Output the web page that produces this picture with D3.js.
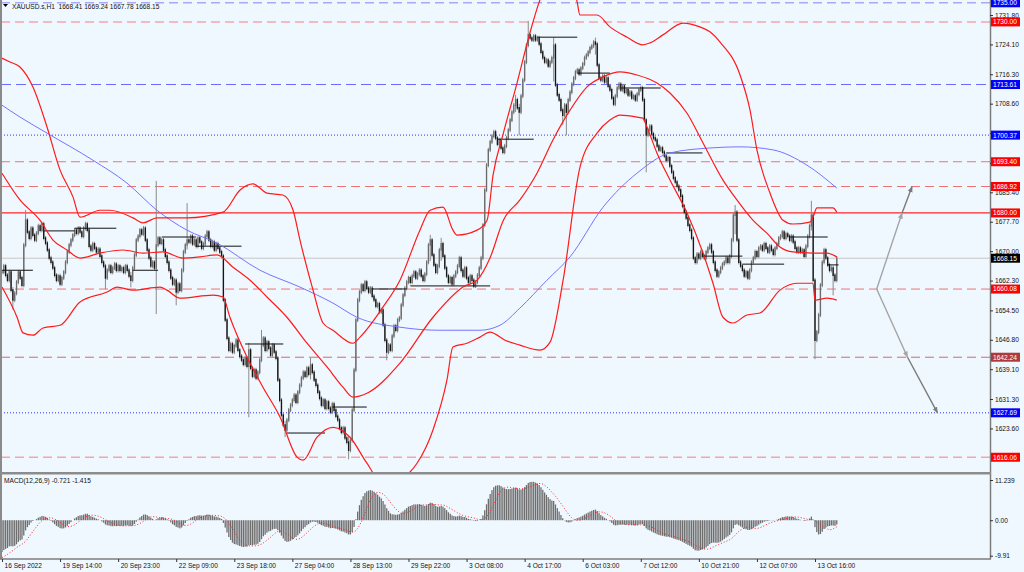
<!DOCTYPE html>
<html><head><meta charset="utf-8">
<script src="https://cdn.jsdelivr.net/npm/d3@7"></script>
<style>
html,body{margin:0;padding:0;background:#f0f8ff;overflow:hidden;}
svg{display:block;font-family:"Liberation Sans",Arial,sans-serif;}
</style></head><body>
<script>
// ---------------- DATA ----------------
const symbolTitle = "XAUUSD.s,H1  1668.41 1669.24 1667.78 1668.15";
const macdTitle = "MACD(12,26,9) -0.721 -1.415";

// H1 closes, one per bar (bar 0 = 16 Sep 2022 ... bar 460 = last bar)
const closes = [
1664.5,1666.1,1663.7,1662.4,1664.5,1659.8,1657.2,1659.0,1661.9,1664.5,
1663.0,1661.1,1671.6,1678.1,1675.0,1673.4,1676.0,1674.2,1672.9,1674.7,
1676.6,1675.5,1677.1,1673.4,1672.1,1670.3,1668.2,1667.1,1665.6,1663.7,
1662.4,1663.5,1661.4,1663.0,1664.5,1667.1,1669.8,1671.6,1672.9,1674.2,
1675.5,1674.7,1676.0,1675.0,1673.9,1676.0,1677.1,1675.5,1671.3,1670.3,
1671.9,1670.8,1669.8,1670.5,1668.7,1667.1,1666.1,1663.0,1665.0,1666.1,
1664.5,1665.6,1666.6,1665.0,1666.1,1665.0,1665.6,1664.5,1666.1,1665.0,
1663.5,1662.4,1665.6,1669.0,1672.9,1673.9,1675.5,1674.5,1676.0,1672.9,
1670.3,1668.2,1666.1,1667.1,1665.6,1671.6,1673.4,1672.1,1672.9,1670.3,
1668.7,1667.1,1665.0,1663.0,1661.4,1662.4,1659.3,1661.4,1659.8,1665.0,
1669.8,1671.6,1672.9,1672.4,1673.9,1671.9,1672.9,1671.3,1673.4,1672.4,
1670.8,1671.9,1673.9,1675.0,1672.9,1671.3,1672.4,1670.3,1671.9,1670.8,
1669.8,1668.7,1657.2,1652.0,1647.2,1644.1,1645.7,1643.6,1645.2,1646.7,
1644.1,1642.5,1641.5,1640.4,1642.0,1639.9,1644.1,1639.4,1637.3,1638.9,
1636.8,1638.3,1641.5,1645.4,1647.2,1644.1,1646.2,1644.6,1642.8,1645.4,
1643.6,1642.0,1636.3,1631.0,1627.1,1624.5,1623.2,1625.8,1628.4,1629.7,
1631.0,1632.3,1630.5,1633.1,1634.9,1636.8,1638.3,1637.3,1639.4,1637.8,
1640.2,1638.3,1636.3,1634.9,1633.1,1631.5,1629.7,1631.0,1628.9,1630.5,
1628.9,1627.9,1630.0,1628.4,1626.8,1625.8,1623.7,1622.6,1623.7,1621.1,
1620.0,1617.9,1620.5,1628.4,1638.9,1652.0,1657.2,1659.3,1661.1,1659.8,
1661.9,1660.3,1659.3,1660.3,1658.2,1657.2,1655.6,1656.2,1654.1,1654.6,
1650.7,1646.7,1643.6,1645.4,1644.1,1647.8,1650.4,1649.3,1652.0,1652.5,
1655.9,1658.5,1660.3,1661.9,1663.0,1661.9,1663.5,1664.5,1663.0,1664.0,
1665.0,1663.5,1662.4,1664.0,1667.1,1671.6,1672.9,1669.0,1666.4,1664.5,
1666.1,1670.3,1671.9,1668.7,1665.6,1663.5,1661.9,1663.0,1661.4,1663.5,
1664.5,1666.1,1668.2,1665.0,1663.5,1665.6,1663.0,1661.9,1663.5,1662.4,
1660.9,1661.9,1663.7,1665.6,1668.2,1676.8,1686.0,1692.5,1696.5,1698.6,
1700.1,1701.2,1699.6,1698.0,1699.1,1697.0,1695.9,1697.5,1699.6,1701.7,
1704.3,1706.4,1708.2,1709.6,1707.5,1706.4,1710.6,1714.8,1719.5,1723.9,
1726.6,1725.8,1725.3,1726.3,1725.3,1725.8,1724.2,1722.1,1720.6,1719.5,
1720.0,1718.5,1719.5,1720.6,1723.9,1713.5,1710.9,1709.6,1706.9,1705.6,
1708.2,1706.4,1709.6,1711.6,1713.7,1715.3,1716.9,1717.4,1716.4,1717.9,
1719.0,1720.6,1721.3,1722.1,1723.2,1723.7,1724.7,1724.2,1718.7,1715.3,
1714.8,1715.8,1714.3,1715.3,1713.2,1712.2,1710.1,1708.5,1710.6,1712.7,
1713.7,1712.2,1713.2,1711.6,1712.2,1710.9,1711.6,1710.1,1710.6,1709.6,
1711.1,1712.2,1712.7,1709.6,1704.3,1700.4,1701.7,1702.7,1700.7,1699.6,
1699.1,1697.5,1696.5,1697.0,1695.9,1694.9,1693.8,1694.4,1692.3,1690.7,
1689.1,1688.1,1687.0,1686.0,1684.4,1681.8,1680.2,1678.7,1676.8,1675.5,
1673.4,1668.2,1667.1,1669.2,1668.2,1669.8,1668.7,1668.2,1669.8,1670.8,
1671.6,1669.8,1667.1,1665.0,1663.5,1664.5,1665.6,1666.6,1667.1,1668.2,
1667.1,1668.7,1672.9,1679.4,1680.2,1672.9,1667.1,1666.1,1665.0,1663.5,
1664.5,1663.0,1665.0,1667.1,1668.2,1669.8,1668.7,1670.8,1671.3,1670.3,
1671.9,1670.8,1669.8,1671.3,1670.3,1669.2,1670.8,1671.9,1673.4,1673.9,
1675.0,1673.4,1674.5,1673.9,1672.9,1673.9,1672.4,1670.8,1669.8,1670.8,
1669.8,1670.3,1668.7,1671.3,1673.9,1676.6,1679.4,1662.4,1646.7,1648.8,
1653.3,1661.1,1667.1,1670.3,1668.2,1666.4,1665.0,1665.6,1663.7,1662.4,
1668.15
];

// notable wicks: [bar, high, low]
const wicks = [
[6,1660,1655.3],[13,1680.2,1672],[57,1665,1660.6],[71,1664,1661.1],[85,1687.8,1654.1],
[96,1661,1656.4],[102,1682.0,1671],[136,1645.4,1627.1],[143,1648.8,1644],[156,1625,1621.9],
[170,1641.5,1637],[191,1621,1616.1],[212,1646,1642.0],[236,1673.7,1668],[242,1672.9,1668],
[283,1710.3,1707],[285,1708,1700.9],[290,1729.7,1725],[304,1725.3,1715],[309,1707,1703.5],
[311,1708,1700.9],[327,1725.3,1722],[355,1702,1691.2],[404,1681.5,1675],[446,1682.6,1676],
[448,1662,1642.3],[458,1665,1659.0]
];

// Bollinger bands: [bar, price]
const bbUpper = [[0,1720.5],[4.4,1719.5],[9.9,1718.2],[17.1,1712.9],[24.8,1702.5],[32,1691.2],[39.1,1684.2],[43,1678.9],[54,1680.7],[59.5,1680.7],[72.2,1678.7],[77.7,1677.4],[85.4,1678.7],[101.9,1678.7],[121.8,1680.2],[131.2,1686.0],[138.3,1687.6],[146,1685.2],[154.8,1684.7],[160.4,1680.7],[164.2,1672.9],[171.4,1659.8],[176.9,1651.2],[182.4,1649.3],[193.4,1645.9],[197.3,1647.5],[210,1655.4],[219.3,1662.4],[230.3,1675.5],[235.9,1680.7],[243,1681.5],[248.5,1675.5],[250.7,1674.2],[261.8,1675.5],[267.3,1678.1],[270.6,1689.9],[276.3,1700.9],[283.8,1714.0],[290.9,1727.1],[296.4,1735.7],[306.4,1743.6],[316.7,1735.7],[318.5,1731.8],[327.9,1731.8],[335,1728.7],[344.4,1726.0],[353.2,1724.0],[357.1,1724.5],[364.2,1726.6],[375.3,1729.7],[384.6,1728.7],[390.1,1727.4],[395.7,1724.7],[406.7,1716.1],[412.2,1706.9],[416,1696.5],[423.2,1685.2],[430.4,1678.1],[435.9,1677.1],[445.2,1677.6],[446.9,1678.9],[449.1,1681.3],[457.9,1681.3],[460,1680.2]];
const bbMiddle = [[0,1690.4],[9.9,1683.4],[20.9,1678.1],[28.1,1672.9],[35.8,1670.3],[43,1668.2],[54,1669.5],[66.7,1670.3],[77.7,1669.5],[88.7,1669.8],[99.7,1668.2],[109.1,1668.5],[118.5,1669.0],[127.3,1665.8],[136.7,1662.4],[146,1658.0],[157,1652.7],[168.1,1645.9],[179.1,1639.7],[187.9,1634.4],[193.4,1631.8],[201.1,1632.8],[219.3,1640.7],[237.5,1652.7],[254,1660.6],[262,1662.5],[268.9,1668.2],[276.3,1678.1],[285.4,1683.4],[294.8,1690.4],[303.6,1699.1],[313,1706.9],[322.4,1713.0],[331.2,1715.6],[340.6,1716.9],[349.9,1716.1],[360.9,1714.0],[368.1,1711.4],[377.5,1706.1],[386.3,1698.3],[397.3,1688.6],[405,1683.4],[413.8,1678.1],[421.5,1674.7],[428.7,1671.1],[435.9,1669.8],[446.9,1669.5],[454.6,1669.5],[460,1668.5]];
const bbLower = [[0,1660.6],[8.3,1652.7],[11.6,1648.6],[17.1,1648.0],[22.6,1649.9],[32,1650.6],[43,1656.7],[57.9,1659.3],[63.4,1660.6],[72.2,1659.8],[87.1,1660.6],[90.9,1659.8],[98.1,1657.7],[116.3,1658.5],[121.8,1658.0],[125.6,1652.7],[135,1642.3],[143.8,1634.4],[153.2,1626.6],[162.6,1616.1],[165.9,1615.3],[173.6,1621.3],[182.4,1623.9],[191.8,1621.3],[201.1,1614.5],[208.3,1610.1],[219.3,1610.6],[228.7,1614.5],[237.5,1623.2],[245.2,1636.3],[248.5,1644.9],[256.2,1645.9],[263.4,1647.5],[268.9,1648.8],[277.2,1646.7],[285.4,1645.4],[296.4,1644.1],[302,1646.2],[309.2,1662.4],[318.5,1692.0],[327.9,1700.9],[335,1704.3],[340.6,1705.6],[349.9,1705.1],[353.2,1704.8],[355.4,1702.5],[360.9,1695.7],[368.1,1688.6],[377.5,1680.0],[386.3,1669.5],[391.8,1661.6],[397.3,1652.7],[402.8,1651.2],[410.5,1653.3],[417.7,1653.8],[428.7,1659.8],[438.1,1661.6],[446.9,1661.6],[448,1657.2],[454.6,1657.7],[460,1657.2]];
// slow moving average (blue)
const maSlow = [[0,1708.2],[9.9,1705.1],[24.8,1700.9],[50.1,1693.8],[68.9,1687.8],[85.4,1680.7],[101.9,1675.5],[118.5,1672.1],[142.2,1665.0],[164.2,1660.6],[182.4,1656.4],[195.6,1652.7],[219.3,1650.1],[241.4,1649.3],[263.4,1649.3],[274.4,1650.6],[285.4,1655.1],[300.3,1662.4],[313,1668.5],[331.2,1681.5],[349.9,1690.4],[368.1,1695.7],[390.1,1697.0],[406.7,1697.3],[424.9,1696.5],[443.6,1692.5],[460,1686.5]];

// daily open/close segments: [fromBar, toBar, price]
const daySegments = [[0,17,1665.0],[23,40,1675.3],[40,63,1676.0],[72,86,1665.0],[88,107,1673.7],[107,132,1671.3],[134,155,1645.7],[157,178,1622.4],[182,201,1629.2],[204,223,1660.1],[225,269,1660.9],[273,293,1699.3],[295,317,1726.0],[317,335,1716.6],[341,363,1712.7],[366,386,1695.7],[386,408,1668.7],[408,431,1666.6],[434,455,1673.7],[455,461,1666.4]];

// horizontal levels
const levelPrices = [1735.00,1730.00,1713.61,1700.37,1693.40,1686.92,1680.00,1668.15,1660.08,1642.24,1627.69,1616.06];
const levelKinds  = ["blueTop","redLight","blueDash","blueDot","redDash","redDash","redSolid","bid","redDash","redDark","blueDot","redLight"];

// projection arrows: [bar, price]
const arrowUp   = [[482,1660.08],[496,1680.00],[501.5,1686.92]];
const arrowDown = [[482,1660.08],[499,1642.24],[515.5,1627.69]];

// axes
const priceTicks = [1731.80,1724.10,1716.30,1708.60,1700.90,1693.10,1685.40,1677.70,1670.00,1662.30,1654.50,1646.80,1639.10,1631.30,1623.60];
const timeTickBars = [0,32,64,96,128,160,192,224,256,288,320,352,384,416,448];
const timeLabels = ["16 Sep 2022","19 Sep 14:00","20 Sep 23:00","22 Sep 09:00","23 Sep 18:00","27 Sep 04:00","28 Sep 13:00","29 Sep 22:00","3 Oct 08:00","4 Oct 17:00","6 Oct 03:00","7 Oct 12:00","10 Oct 21:00","12 Oct 07:00","13 Oct 16:00"];
const macdTicks = [11.239,0,-9.91];
const macdTickLabels = ["11.239","0.00","-9.91"];
// MACD(12,26,9) state at the first bar
const macdStart = {ema12:1668.0, ema26:1677.3, signal:-10.6};

// ---------------- DRAW ----------------
const W=1024,H=572, AXX=990, MAIN_B=472, MACD_T=475, MACD_B=559;
const svg=d3.select("body").append("svg").attr("width",W).attr("height",H);
svg.append("rect").attr("width",W).attr("height",H).attr("fill","#f0f8ff");

const x=d3.scaleLinear().domain([0,545]).range([2,2+545*1.8147]);
const y=d3.scaleLinear().domain([1612.2,1735.73]).range([MAIN_B,0]);
const ym=d3.scaleLinear().domain([-9.91,11.239]).range([555.7,480]);

const defs=svg.append("defs");
defs.append("clipPath").attr("id","mc").append("rect").attr("x",1).attr("y",0).attr("width",AXX-1).attr("height",MAIN_B);
defs.append("clipPath").attr("id","dc").append("rect").attr("x",1).attr("y",MACD_T).attr("width",AXX-1).attr("height",MACD_B-MACD_T);
[["ahL","#a4a4a4"],["ahD","#7a7a7a"]].forEach(([id,col])=>{
  defs.append("marker").attr("id",id).attr("viewBox","0 0 10 10").attr("refX",9).attr("refY",5)
   .attr("markerWidth",4.5).attr("markerHeight",4.5).attr("orient","auto")
   .append("path").attr("d","M0,1L10,5L0,9z").attr("fill",col);
});

const g=svg.append("g").attr("clip-path","url(#mc)");

const levelStyle={
 blueTop:{stroke:"#a8a8f6",dash:"9,5",w:1.5,bg:"#0000ff"},
 redLight:{stroke:"#f4a6a6",dash:"9,5",w:1.5,bg:"#ff0000"},
 blueDash:{stroke:"#6a6aff",dash:"10,5",w:1,bg:"#0000ff"},
 blueDot:{stroke:"#3434ff",dash:"1,2",w:1,bg:"#0000ff"},
 redDash:{stroke:"#f07272",dash:"9,5",w:1,bg:"#ff0000"},
 redSolid:{stroke:"#ff2424",dash:null,w:1.3,bg:"#ff0000"},
 bid:{stroke:"#c6c6c6",dash:null,w:1,bg:"#000000"},
 redDark:{stroke:"#d36a6a",dash:"9,5",w:1,bg:"#b03a3a"}
};
const levels=levelPrices.map((p,i)=>({p,s:levelStyle[levelKinds[i]]}));
g.selectAll("line.lvl").data(levels).join("line").attr("class","lvl")
 .attr("x1",1).attr("x2",AXX).attr("y1",d=>y(d.p)).attr("y2",d=>y(d.p))
 .attr("stroke",d=>d.s.stroke).attr("stroke-width",d=>d.s.w)
 .attr("stroke-dasharray",d=>d.s.dash);

// candles
const bars=closes.map((c,i)=>{const o=i?closes[i-1]:c;return {i,o,c,h:Math.max(o,c),l:Math.min(o,c)};});
wicks.forEach(([i,h,l])=>{bars[i].h=Math.max(bars[i].h,h);bars[i].l=Math.min(bars[i].l,l);});
// wick (thin, lighter) then body
g.selectAll("line.wk").data(bars).join("line").attr("class","wk")
 .attr("x1",d=>x(d.i)).attr("x2",d=>x(d.i))
 .attr("y1",d=>y(d.h)-2.2).attr("y2",d=>y(d.l)+2.2)
 .attr("stroke","#8a8a8a").attr("stroke-width",1);
g.selectAll("line.bar").data(bars).join("line").attr("class","bar")
 .attr("x1",d=>x(d.i)).attr("x2",d=>x(d.i))
 .attr("y1",d=>y(Math.max(d.o,d.c))-0.8).attr("y2",d=>y(Math.min(d.o,d.c))+0.8)
 .attr("stroke",d=>d.c>=d.o?"#6c6c6c":"#151515").attr("stroke-width",1.35);

// daily segments
g.selectAll("line.day").data(daySegments).join("line").attr("class","day")
 .attr("x1",d=>x(d[0])).attr("x2",d=>x(d[1])).attr("y1",d=>y(d[2])).attr("y2",d=>y(d[2]))
 .attr("stroke","#111").attr("stroke-width",1);

// indicator lines
const ln=d3.line().x(d=>x(d[0])).y(d=>y(d[1])).curve(d3.curveMonotoneX);
g.append("path").attr("d",ln(maSlow)).attr("fill","none").attr("stroke","#7474ff").attr("stroke-width",1);
[bbUpper,bbMiddle,bbLower].forEach(s=>{
  g.append("path").attr("d",ln(s)).attr("fill","none").attr("stroke","#ff1a1a").attr("stroke-width",1.2);
});

// arrows
const al=d3.line().x(d=>x(d[0])).y(d=>y(d[1]));
[arrowUp,arrowDown].forEach(a=>{
  g.append("path").attr("d",al([a[0],a[1]])).attr("stroke","#a4a4a4").attr("stroke-width",1.4).attr("fill","none").attr("marker-end","url(#ahL)");
  g.append("path").attr("d",al([a[1],a[2]])).attr("stroke","#7a7a7a").attr("stroke-width",1.4).attr("fill","none").attr("marker-end","url(#ahD)");
});

// ---- MACD panel ----
const k12=2/13,k26=2/27;
let e12=macdStart.ema12,e26=macdStart.ema26;
const macd=closes.map(c=>{e12+=k12*(c-e12);e26+=k26*(c-e26);return e12-e26;});
const signal=macd.map((v,i)=>{let s=0;for(let j=i-8;j<=i;j++){s+= j<0?macdStart.signal:macd[j];}return s/9;});
const gm=svg.append("g").attr("clip-path","url(#dc)");
gm.selectAll("rect.h").data(macd).join("rect").attr("class","h")
 .attr("x",(d,i)=>x(i)-0.65).attr("width",1.3)
 .attr("y",d=>Math.min(ym(d),ym(0))).attr("height",d=>Math.abs(ym(d)-ym(0)))
 .attr("fill","#6e6e6e");
gm.append("path").attr("d",d3.line().x((d,i)=>x(i)).y(d=>ym(d))(signal))
 .attr("fill","none").attr("stroke","#ff2020").attr("stroke-width",1).attr("stroke-dasharray","1,2");

// ---- frame ----
svg.append("line").attr("x1",1).attr("x2",1).attr("y1",0).attr("y2",MACD_B).attr("stroke","#8a8a8a").attr("stroke-width",2);
svg.append("line").attr("x1",AXX+0.5).attr("x2",AXX+0.5).attr("y1",0).attr("y2",MACD_B).attr("stroke","#7c7c7c").attr("stroke-width",1.5);
svg.append("rect").attr("x",0).attr("y",MAIN_B).attr("width",AXX+1).attr("height",2.5).attr("fill","#8c8c8c");
svg.append("line").attr("x1",0).attr("x2",AXX+1).attr("y1",MACD_B).attr("y2",MACD_B).attr("stroke","#7c7c7c").attr("stroke-width",1.5);

// ---- axes ----
const fs=6.6;
const ay=svg.append("g").attr("transform",`translate(${AXX},0)`)
 .call(d3.axisRight(y).tickValues(priceTicks).tickFormat(d3.format(".2f")).tickSize(3).tickPadding(2));
ay.select(".domain").remove();
ay.selectAll("text").attr("font-size",fs).attr("fill","#111").attr("font-family","Liberation Sans, Arial, sans-serif");
ay.selectAll("line").attr("stroke","#333");

const am=svg.append("g").attr("transform",`translate(${AXX},0)`)
 .call(d3.axisRight(ym).tickValues(macdTicks).tickFormat((d,i)=>macdTickLabels[i]).tickSize(3).tickPadding(2));
am.select(".domain").remove();
am.selectAll("text").attr("font-size",fs).attr("fill","#111").attr("font-family","Liberation Sans, Arial, sans-serif");
am.selectAll("line").attr("stroke","#333");

const ax=svg.append("g").attr("transform",`translate(0,${MACD_B})`)
 .call(d3.axisBottom(x).tickValues(timeTickBars).tickFormat((d,i)=>timeLabels[i]).tickSize(3).tickPadding(1));
ax.select(".domain").remove();
ax.selectAll("text").attr("font-size",fs).attr("fill","#111").attr("text-anchor","start").attr("dx",2).attr("font-family","Liberation Sans, Arial, sans-serif");
ax.selectAll("line").attr("stroke","#333");

// level labels on price axis
const lb=svg.append("g");
levels.forEach(d=>{
  const yy=y(d.p);
  lb.append("rect").attr("x",AXX+1).attr("y",yy-4.5).attr("width",29).attr("height",9).attr("fill",d.s.bg);
  lb.append("text").attr("x",AXX+3).attr("y",yy+2.4).attr("font-size",fs).attr("fill","#fff").text(d3.format(".2f")(d.p));
});

// titles
svg.append("path").attr("d","M3,4L8,4L5.5,7Z").attr("fill","#000");
svg.append("text").attr("x",12).attr("y",8.6).attr("font-size",fs).attr("fill","#111").text(symbolTitle).attr("xml:space","preserve").style("white-space","pre");
svg.append("text").attr("x",4).attr("y",482.5).attr("font-size",fs).attr("fill","#111").text(macdTitle);
</script>
</body></html>
